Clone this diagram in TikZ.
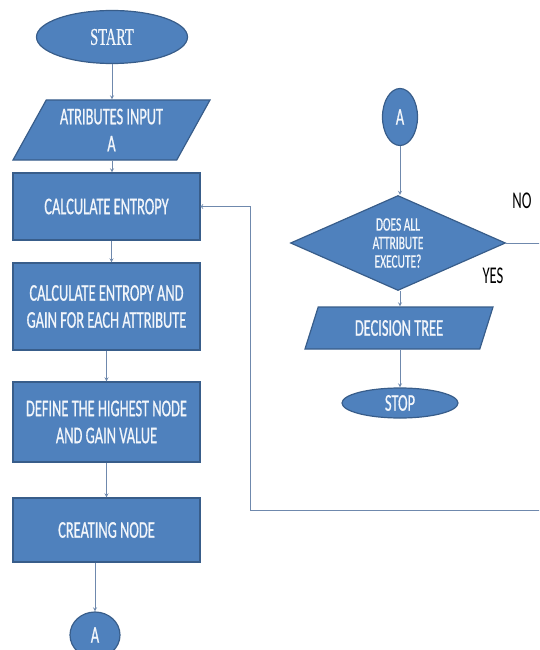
\documentclass[tikz,border=0pt]{standalone}
\usepackage{fontspec}
\newfontfamily\flowfont[FakeStretch=0.6,FakeBold=0.6]{Carlito}
\newfontfamily\answerfont[FakeStretch=0.61]{Carlito}
\newfontfamily\startfont[FakeStretch=0.6,FakeBold=0.5]{Liberation Serif}
\usetikzlibrary{shapes.geometric}
\definecolor{boxblue}{HTML}{4F81BD}
\definecolor{boxedge}{HTML}{385D8A}
\definecolor{arrowgray}{HTML}{6F89AD}
\definecolor{labelwhite}{HTML}{F2F6FB}

\begin{document}
\begin{tikzpicture}[x=1pt,y=-1pt,>=stealth,
  shape base/.style={draw=boxedge,line width=1.2pt,fill=boxblue,text=labelwhite,
    font=\flowfont\fontsize{24}{27}\selectfont,align=center,inner sep=0pt},
  box/.style={shape base,rectangle,minimum width=187pt},
  io/.style={shape base,trapezium,trapezium stretches body=true},
  term/.style={shape base,ellipse},
  decide/.style={shape base,diamond,aspect=2.26,font=\flowfont\fontsize{19}{18.5}\selectfont},
  flow/.style={->,draw=arrowgray,line width=0.8pt},
  answer/.style={font=\answerfont\fontsize{24}{24}\selectfont,text=black}]

\useasboundingbox (0,0) rectangle (539,650);
\clip (0,0) rectangle (539,650);

\node[term,minimum width=151pt,minimum height=53pt,font=\startfont\fontsize{24}{24}\selectfont] (start) at (112,37) {START};
\node[io,trapezium left angle=52,trapezium right angle=128,minimum width=197pt,minimum height=60pt] (input) at (111.5,130) {ATRIBUTES INPUT\\A};
\node[box,minimum height=67pt] (calc) at (106.5,206.5) {CALCULATE ENTROPY};
\node[box,minimum height=87pt] (gain) at (106.5,306.5) {CALCULATE ENTROPY AND\\GAIN FOR EACH ATTRIBUTE};
\node[box,minimum height=80pt] (high) at (106.5,422) {DEFINE THE HIGHEST NODE\\AND GAIN VALUE};
\node[box,minimum height=64pt] (create) at (106.5,530) {CREATING NODE};
\node[term,minimum width=50pt,minimum height=46pt] (aout) at (95,635) {A};

\node[term,minimum width=35pt,minimum height=57pt] (ain) at (400,117) {A};
\node[decide,minimum width=215pt,minimum height=95pt] (dec) at (398,243) {DOES ALL\\ATTRIBUTE\\EXECUTE?};
\node[io,trapezium left angle=50,trapezium right angle=130,minimum width=188pt,minimum height=42pt] (tree) at (399,328) {DECISION TREE};
\node[term,minimum width=116pt,minimum height=30pt] (stop) at (400,403) {STOP};

\node[answer] (nolbl) at (522,201) {NO};
\node[answer] (yeslbl) at (493,276) {YES};

\coordinate (loopr) at (548,510);
\coordinate (loopl) at (250,510);

\draw[flow] (start) -- (start |- input.north);
\draw[flow] (input.south -| start) -- (calc.north -| start);
\draw[flow] ([xshift=5pt]calc.south) -- ([xshift=5pt]gain.north);
\draw[flow] (gain) -- (high);
\draw[flow] (high) -- (create);
\draw[flow] (create.south -| aout) -- (aout);

\draw[flow] (ain) -- (dec.north -| ain);
\draw[flow] (dec.south -| ain) -- (tree.north -| ain);
\draw[flow] (tree.south -| ain) -- (stop);

\draw[flow,-to] (dec.east) -| (loopr) -- (loopl) |- (calc.east);
\end{tikzpicture}
\end{document}
